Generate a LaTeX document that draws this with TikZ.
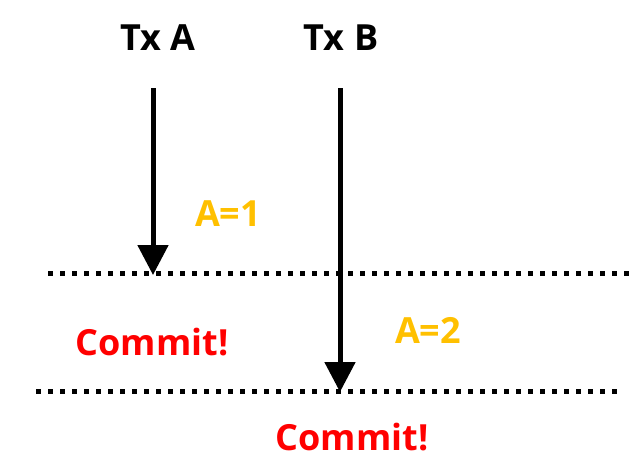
\documentclass[tikz,border=0pt]{standalone}
\usepackage{fontspec}
\setmainfont{Open Sans}
\usepackage{xcolor}
\definecolor{cTxt}{HTML}{000000}
\definecolor{cVal}{HTML}{FFC000}
\definecolor{cCommit}{HTML}{FF0000}
\usetikzlibrary{arrows.meta}
\tikzset{
  txn-label/.style={anchor=base,font=\bfseries\fontsize{36}{40}\selectfont,text=cTxt,inner sep=0pt},
  val-label/.style={anchor=base,font=\bfseries\fontsize{36}{40}\selectfont,text=cVal,inner sep=0pt},
  commit-label/.style={anchor=base,font=\bfseries\fontsize{36}{40}\selectfont,text=cCommit,inner sep=0pt},
  arrow-txn/.style={-{Triangle[length=30pt,width=30pt]},line width=5pt,draw=cTxt},
  line-sync/.style={line width=5pt,dash pattern=on 5pt off 7pt,draw=cTxt},
}

\begin{document}
\begin{tikzpicture}[x=1pt,y=-1pt]
  \useasboundingbox (0,0) rectangle (635,466);
  % transactions
  \node[txn-label] (txa) at (158,50) {Tx A};
  \node[txn-label] (txb) at (341,50) {Tx B};
  \coordinate (a-start) at (153,88);
  \coordinate (a-end)   at (153,275);
  \coordinate (b-start) at (340,88);
  \coordinate (b-end)   at (340,392);
  % sync lines
  \coordinate (s1-l) at (48,273);
  \coordinate (s1-r) at (632,273);
  \coordinate (s2-l) at (36,391);
  \coordinate (s2-r) at (618,391);
  \draw[line-sync] (s1-l) -- (s1-r);
  \draw[line-sync] (s2-l) -- (s2-r);
  \draw[arrow-txn] (a-start) -- (a-end);
  \draw[arrow-txn] (b-start) -- (b-end);
  % values and commits
  \node[val-label]    (va) at (228,226) {A=1};
  \node[val-label]    (vb) at (428,343) {A=2};
  \node[commit-label] (ca) at (152,355) {Commit!};
  \node[commit-label] (cb) at (352,450) {Commit!};
\end{tikzpicture}
\end{document}
